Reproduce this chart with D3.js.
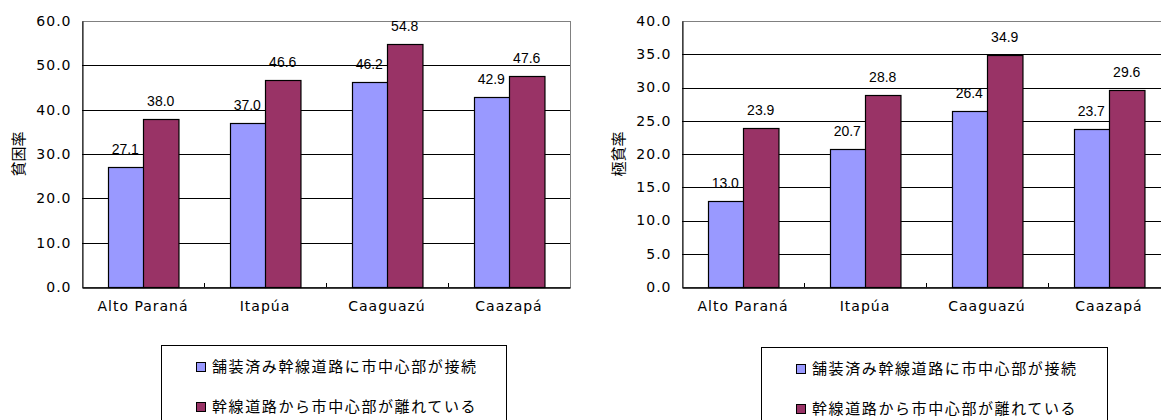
<!DOCTYPE html>
<html>
<head>
<meta charset="utf-8">
<script src="https://cdn.jsdelivr.net/npm/d3@7"></script>
<style>
  body { margin: 0; background: #fff; }
  svg { display: block; }
</style>
</head>
<body>
<figure id="charts" style="margin:0"></figure>
<script>
// data
const regions = ["Alto Paraná", "Itapúa", "Caaguazú", "Caazapá"];
const seriesNames = ["舗装済み幹線道路に市中心部が接続", "幹線道路から市中心部が離れている"];
const povertyConnected = [27.1, 37.0, 46.2, 42.9];
const povertyRemote = [38.0, 46.6, 54.8, 47.6];
const extremeConnected = [13.0, 20.7, 26.4, 23.7];
const extremeRemote = [23.9, 28.8, 34.9, 29.6];
const povertyTicks = [0, 10, 20, 30, 40, 50, 60];
const extremeTicks = [0, 5, 10, 15, 20, 25, 30, 35, 40];

const colors = ["#9999FF", "#993366"];
const width = 1161, height = 420;

const svg = d3.select("#charts")
  .append("svg")
  .attr("width", width)
  .attr("height", height);

function drawPanel(opts) {
  const left = opts.left, top = 21, bottom = 287, plotW = 488;
  const g = svg.append("g");

  const x = d3.scaleBand().domain(regions).range([left, left + plotW]);
  const xInner = d3.scaleBand().domain([0, 1]).range([0, x.bandwidth()]).paddingOuter(0.72);
  const y = d3.scaleLinear().domain([0, d3.max(opts.ticks)]).range([bottom, top]);

  // plot border (grey)
  g.append("rect")
    .attr("x", left + 0.5).attr("y", top + 0.5)
    .attr("width", plotW).attr("height", bottom - top)
    .attr("fill", "none").attr("stroke", "#808080");

  // gridlines
  g.selectAll(".grid")
    .data(opts.ticks.filter(t => t > 0 && t < d3.max(opts.ticks)))
    .enter().append("line")
    .attr("x1", left).attr("x2", left + plotW)
    .attr("y1", d => Math.round(y(d)) + 0.5).attr("y2", d => Math.round(y(d)) + 0.5)
    .attr("stroke", "#000");

  // y axis
  const yAxis = d3.axisLeft(y).tickValues(opts.ticks).tickFormat(d3.format(".1f")).tickSize(0).tickPadding(11);
  const ya = g.append("g").attr("transform", `translate(${left + 0.5},0)`).call(yAxis);
  ya.select(".domain").attr("stroke", "#000");
  ya.selectAll("text")
    .style("font-family", "'DejaVu Sans', Verdana, sans-serif")
    .style("font-size", "14px")
    .style("letter-spacing", "1px")
    .attr("fill", "#000");

  // bars
  const groups = g.selectAll(".grp")
    .data(regions)
    .enter().append("g")
    .attr("transform", d => `translate(${x(d)},0)`);

  groups.selectAll("rect")
    .data((d, i) => opts.values.map((s, k) => ({ k: k, v: s[i] })))
    .enter().append("rect")
    .attr("x", d => Math.round(xInner(d.k)) + 0.5)
    .attr("y", d => Math.round(y(d.v)) + 0.5)
    .attr("width", xInner.bandwidth())
    .attr("height", d => bottom - Math.round(y(d.v)))
    .attr("fill", d => colors[d.k])
    .attr("stroke", "#000")
    .attr("stroke-width", 1.2);

  groups.selectAll("text")
    .data((d, i) => opts.values.map((s, k) => ({ k: k, v: s[i] })))
    .enter().append("text")
    .attr("x", d => xInner(d.k) + xInner.bandwidth() / 2)
    .attr("y", d => y(d.v) - 13)
    .attr("text-anchor", "middle")
    .style("font-family", "'Liberation Sans', Arial, sans-serif")
    .style("font-size", "14px")
    .text(d => d.v.toFixed(1));

  // x axis
  const xAxis = d3.axisBottom(x).tickSize(0).tickPadding(14);
  const xa = g.append("g").attr("transform", `translate(0,${bottom + 0.5})`).call(xAxis);
  xa.select(".domain").attr("stroke", "#000").attr("stroke-width", 1.5);
  xa.selectAll("text")
    .style("font-family", "'DejaVu Sans', Verdana, sans-serif")
    .style("font-size", "14px")
    .style("letter-spacing", "1px")
    .attr("fill", "#000");
  // small tick marks between categories
  g.selectAll(".sep")
    .data(regions.slice(1))
    .enter().append("line")
    .attr("x1", d => Math.round(x(d)) + 0.5).attr("x2", d => Math.round(x(d)) + 0.5)
    .attr("y1", bottom).attr("y2", bottom - 4)
    .attr("stroke", "#000");

  // y label
  g.append("text")
    .attr("transform", `translate(${left - 58},${(top + bottom) / 2}) rotate(-90)`)
    .attr("text-anchor", "middle")
    .style("font-family", "'Noto Sans CJK JP', sans-serif")
    .style("font-size", "15px")
    .text(opts.ylabel);

  // legend
  const lg = g.append("g");
  lg.append("rect")
    .attr("x", opts.legendX + 0.5).attr("y", opts.legendY + 0.5)
    .attr("width", opts.legendW).attr("height", 100)
    .attr("fill", "#fff").attr("stroke", "#000");
  const items = lg.selectAll(".item")
    .data(seriesNames)
    .enter().append("g")
    .attr("transform", (d, i) => `translate(${opts.legendX + 35},${opts.legendY + 22 + i * 40})`);
  items.append("rect")
    .attr("x", 0.5).attr("y", -4.5)
    .attr("width", 9).attr("height", 9)
    .attr("fill", (d, i) => colors[i])
    .attr("stroke", "#000");
  items.append("text")
    .attr("x", 16).attr("y", 0).attr("dy", "0.36em")
    .style("font-family", "'Noto Sans CJK JP', sans-serif")
    .style("font-size", "15px")
    .style("letter-spacing", "1.6px")
    .text(d => d);
}

drawPanel({
  left: 82, ticks: povertyTicks, values: [povertyConnected, povertyRemote],
  ylabel: "貧困率", legendX: 161, legendY: 345, legendW: 345
});
drawPanel({
  left: 682, ticks: extremeTicks, values: [extremeConnected, extremeRemote],
  ylabel: "極貧率", legendX: 761, legendY: 347, legendW: 346
});
</script>
</body>
</html>
